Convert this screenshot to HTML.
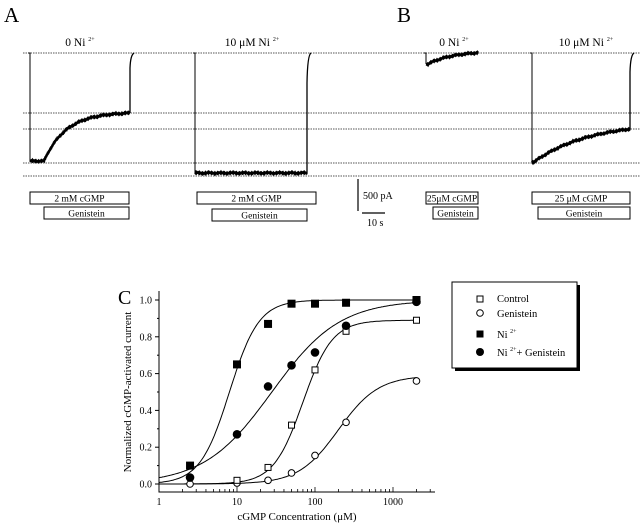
<!DOCTYPE html>
<html><head><meta charset="utf-8"><style>
html,body{margin:0;padding:0;background:#fff;}
svg{display:block;font-family:"Liberation Serif",serif;}
</style></head><body>
<svg id="fig" width="640" height="526" viewBox="0 0 640 526">
<g id="top">
  <text x="4" y="22" font-size="21">A</text>
  <text x="397" y="22" font-size="21">B</text>
  <text x="80" y="46" font-size="11.5" text-anchor="middle">0 Ni <tspan font-size="6" dy="-5">2+</tspan></text>
  <text x="252" y="46" font-size="11.5" text-anchor="middle">10 μM Ni <tspan font-size="6" dy="-5">2+</tspan></text>
  <text x="454" y="46" font-size="11.5" text-anchor="middle">0 Ni <tspan font-size="6" dy="-5">2+</tspan></text>
  <text x="586" y="46" font-size="11.5" text-anchor="middle">10 μM Ni <tspan font-size="6" dy="-5">2+</tspan></text>
  <g stroke="#555" stroke-width="1" stroke-dasharray="1.5,1">
    <line x1="23" y1="53" x2="640" y2="53"/>
    <line x1="23" y1="113" x2="640" y2="113"/>
    <line x1="23" y1="129" x2="640" y2="129"/>
    <line x1="23" y1="163" x2="640" y2="163"/>
    <line x1="23" y1="176" x2="640" y2="176"/>
  </g>
  <g id="traces" fill="none" stroke="#000"></g>
  <g font-size="9.5" text-anchor="middle">
    <rect x="30" y="192" width="99" height="12" fill="#fff" stroke="#000"/>
    <text x="79.5" y="201.5">2 mM cGMP</text>
    <rect x="44" y="207" width="85" height="12" fill="#fff" stroke="#000"/>
    <text x="86.5" y="216.5">Genistein</text>
    <rect x="197" y="192" width="119" height="12" fill="#fff" stroke="#000"/>
    <text x="256.5" y="201.5">2 mM cGMP</text>
    <rect x="212" y="209" width="95" height="12" fill="#fff" stroke="#000"/>
    <text x="259.5" y="218.5">Genistein</text>
    <rect x="426" y="192" width="52" height="12" fill="#fff" stroke="#000"/>
    <text x="452" y="201.5">25μM cGMP</text>
    <rect x="433" y="207" width="45" height="12" fill="#fff" stroke="#000"/>
    <text x="455.5" y="216.5">Genistein</text>
    <rect x="532" y="192" width="98" height="12" fill="#fff" stroke="#000"/>
    <text x="581" y="201.5">25 μM cGMP</text>
    <rect x="538" y="207" width="92" height="12" fill="#fff" stroke="#000"/>
    <text x="584" y="216.5">Genistein</text>
  </g>
  <g>
    <line x1="358" y1="179" x2="358" y2="211" stroke="#000" stroke-width="1.2"/>
    <text x="363" y="199" font-size="10">500 pA</text>
    <line x1="362" y1="213" x2="385" y2="213" stroke="#000" stroke-width="1.2"/>
    <text x="367" y="226" font-size="10">10 s</text>
  </g>
</g>
<g id="chart">
  <text x="118" y="304" font-size="20">C</text>
  <text transform="translate(131,392) rotate(-90)" font-size="11" text-anchor="middle">Normalized  cGMP-activated  current</text>
  <text x="297" y="520" font-size="11" text-anchor="middle">cGMP Concentration (μM)</text>
  <g id="axes" stroke="#000" fill="none"></g>
  <g id="axislabels" font-size="10"></g>
  <g id="curves" fill="none" stroke="#000" stroke-width="1"></g>
  <g id="points"></g>
  <g>
    <rect x="455" y="285" width="125" height="86" fill="#000"/>
    <rect x="452" y="282" width="125" height="86" fill="#fff" stroke="#000"/>
    <g font-size="10.5">
      <rect x="477" y="296" width="6" height="6" fill="#fff" stroke="#000"/>
      <text x="497" y="302">Control</text>
      <circle cx="480" cy="313" r="3.3" fill="#fff" stroke="#000"/>
      <text x="497" y="317">Genistein</text>
      <rect x="476.5" y="330.5" width="7" height="7" fill="#000"/>
      <text x="497" y="338">Ni <tspan font-size="6" dy="-5">2+</tspan></text>
      <circle cx="480" cy="352" r="4" fill="#000"/>
      <text x="497" y="356">Ni <tspan font-size="6" dy="-5">2+</tspan><tspan dy="5">+ Genistein</tspan></text>
    </g>
  </g>
</g>
</svg>
<script>
// ---- chart data ----
const concControl = [10, 25, 50, 100, 250, 2000];
const valControl = [0.02, 0.09, 0.32, 0.62, 0.83, 0.89];
const concGen = [2.5, 10, 25, 50, 100, 250, 2000];
const valGen = [0.0, 0.005, 0.02, 0.06, 0.155, 0.335, 0.56];
const concNi = [2.5, 10, 25, 50, 100, 250, 2000];
const valNi = [0.10, 0.65, 0.87, 0.98, 0.98, 0.985, 1.0];
const concNiGen = [2.5, 10, 25, 50, 100, 250, 2000];
const valNiGen = [0.035, 0.27, 0.53, 0.645, 0.715, 0.86, 0.99];
// Hill fit parameters [max, K, n]
const fitControl = [0.89, 70, 2.3];
const fitGen = [0.59, 200, 1.7];
const fitNi = [1.0, 8, 2.3];
const fitNiGen = [1.0, 28, 1.0];
const yTicks = [0.0, 0.2, 0.4, 0.6, 0.8, 1.0];
const xTicks = [1, 10, 100, 1000];

const NS = 'http://www.w3.org/2000/svg';
function mk(tag, attrs, parent){const e=document.createElementNS(NS,tag);for(const k in attrs)e.setAttribute(k,attrs[k]);parent.appendChild(e);return e;}
const X0=159, DEC=78, Y0=484, YS=184;
const xs=c=>X0+DEC*Math.log10(c);
const ys=v=>Y0-YS*v;

const axes=document.getElementById('axes');
let a=mk('path',{d:`M${X0},291 V492 H435`,'stroke-width':1},axes);


const lab=document.getElementById('axislabels');
for(let v=0; v<=1.0001; v+=0.1){
  const y=ys(v); const major=Math.abs(v*5-Math.round(v*5))<1e-6;
  mk('line',{x1:X0-(major?4:2),y1:y,x2:X0,y2:y,'stroke-width':1},axes);
}
yTicks.forEach(v=>{
  const t=mk('text',{x:X0-7,y:ys(v)+3.5,'text-anchor':'end'},lab);
  t.textContent=v.toFixed(1);
  
  
});
for(let d=0; d<4; d++){
  for(let m=1;m<=9;m++){
    const c=Math.pow(10,d)*m; const x=xs(c); if(x>435)break;
    mk('line',{x1:x,y1:492,x2:x,y2:492-(m===1?5:3),'stroke-width':0.8},axes);
  }
}
xTicks.forEach(c=>{
  const t=mk('text',{x:xs(c),y:505,'text-anchor':'middle'},lab);
  t.textContent=String(c);
  
  
});

const curves=document.getElementById('curves');
function curve(p,name){
  let d='';
  for(let i=0;i<=200;i++){const lc=i/200*Math.log10(2000); const c=Math.pow(10,lc);
    const v=p[0]/(1+Math.pow(p[1]/c,p[2])); d+=(i?'L':'M')+xs(c).toFixed(1)+','+ys(v).toFixed(1);}
  const e=mk('path',{d},curves);
  
  
}
curve(fitNi,'fit-curve-ni');curve(fitNiGen,'fit-curve-ni-genistein');curve(fitControl,'fit-curve-control');curve(fitGen,'fit-curve-genistein');

const pts=document.getElementById('points');
function series(cs,vs,shape,fill,name){
  cs.forEach((c,i)=>{
    const x=xs(c),y=ys(vs[i]); let e;
    if(shape==='sq'){const s=fill?7:6; e=mk('rect',{x:x-s/2,y:y-s/2,width:s,height:s,fill:fill?'#000':'#fff',stroke:'#000','stroke-width':1},pts);}
    else e=mk('circle',{cx:x,cy:y,r:fill?3.8:3.3,fill:fill?'#000':'#fff',stroke:'#000','stroke-width':1},pts);
    
    
  });
}
series(concGen,valGen,'circ',false,'point-genistein');
series(concControl,valControl,'sq',false,'point-control');
series(concNiGen,valNiGen,'circ',true,'point-ni-genistein');
series(concNi,valNi,'sq',true,'point-ni');

// ---- current traces ----
const tr=document.getElementById('traces');
function trace(name,x0,x1,lo,hi,tau,delay){
  let g=mk('g',{},tr);
  
  
  mk('path',{d:`M${x0-2},53 H${x0} V${lo}`,'stroke-width':1},g);
  let d='', yEnd=lo;
  for(let x=x0;x<=x1;x+=0.5){
    let t=x-x0-delay; let y= t<=0?lo:hi+(lo-hi)*Math.exp(-t/tau);
    yEnd=y;
    y+=(Math.sin(x*7.3)+Math.sin(x*13.1))*0.4;
    d+=(d?'L':'M')+x+','+y.toFixed(1);
  }
  mk('path',{d,'stroke-width':2.6},g);
  if(yEnd-53>3){
    mk('path',{d:`M${x1},${yEnd.toFixed(1)} V${(53+(yEnd-53)*0.25).toFixed(1)} Q${x1+0.5},55 ${x1+4},53`,'stroke-width':1.3},g);
  }
}
trace('trace-a-0ni',30,130,161,112,22,14);
trace('trace-a-10ni',195,307,173,171,1e9,0);
trace('trace-b-0ni',426,478,64,51,25,2);
trace('trace-b-10ni',532,630,162,122,55,2);
</script>
</body></html>
